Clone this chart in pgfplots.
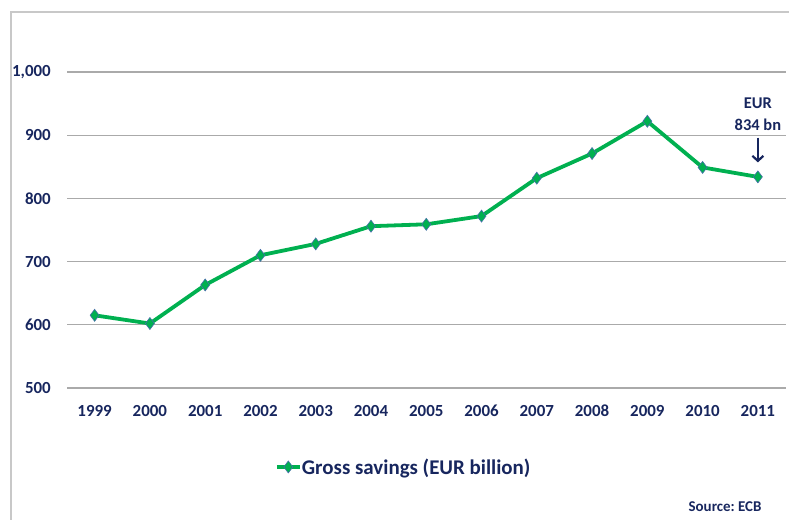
\documentclass[border=0pt]{standalone}
\usepackage{fontspec}
\setmainfont{Carlito}
\usepackage{pgfplots}
\pgfplotsset{compat=1.18}
\usetikzlibrary{arrows.meta}
\frenchspacing
\definecolor{navy}{RGB}{23,38,94}
\definecolor{sgreen}{RGB}{0,176,80}
\definecolor{gridgray}{RGB}{170,170,170}
\definecolor{framegray}{RGB}{200,200,200}
\definecolor{medge}{RGB}{70,110,170}
\pgfplotstableread{
x year value
0 1999 615
1 2000 602
2 2001 663
3 2002 710
4 2003 728
5 2004 756
6 2005 759
7 2006 772
8 2007 832
9 2008 871
10 2009 922
11 2010 849
12 2011 834
}\savings
\begin{document}
\begin{tikzpicture}[x=1bp,y=1bp]
\path[use as bounding box] (0,0) rectangle (789,520);
\draw[framegray, line width=1.3bp] (11,0) -- (11,508) -- (789,508);
\begin{axis}[
  at={(67bp,132bp)}, anchor=south west,
  scale only axis, width=718.5bp, height=316bp,
  xmin=-0.5, xmax=12.5, ymin=500, ymax=1000,
  xtick={0,...,12},
  xticklabels={1999,2000,2001,2002,2003,2004,2005,2006,2007,2008,2009,2010,2011},
  ytick={500,600,700,800,900,1000},
  ymajorgrids, grid style={gridgray, line width=1.1bp},
  axis line style={draw=none}, major tick length=0pt,
  tick label style={font=\fontsize{17}{20}\selectfont\bfseries, text=navy},
  /pgf/number format/assume math mode=true,
  /pgf/number format/1000 sep={,},
  yticklabel style={anchor=east, inner sep=0pt, xshift=-16bp},
  xticklabel style={anchor=center, inner sep=0pt, yshift=-23bp},
  clip=false,
  legend style={at={(0.2895,-0.25)}, anchor=west, draw=none, fill=none,
    inner sep=0pt, nodes={inner sep=0.5bp},
    font=\fontsize{21}{24}\selectfont\bfseries, text=navy},
  legend cell align=left,
  legend image code/.code={\draw[#1, line width=3.2bp, mark repeat=2, mark phase=2]
     plot coordinates {(0bp,0bp) (11.5bp,0bp) (23bp,0bp)};},
]
\addplot[sgreen, line width=3.8bp, mark=diamond*, mark size=6bp,
  mark options={fill=sgreen, draw=medge, line width=0.6bp}]
  table[x=x, y=value] {\savings};
\addlegendentry{Gross savings (EUR billion)}
\node[font=\fontsize{16.5}{19}\selectfont\bfseries, text=navy] at (axis cs:12,950) {EUR};
\node[font=\fontsize{16.5}{19}\selectfont\bfseries, text=navy] at (axis cs:12,917) {834 bn};
\draw[navy, line width=2.2bp, -{Straight Barb[length=5bp, width=11bp]}] (axis cs:12,896) -- (axis cs:12,857);
\end{axis}
\node[anchor=east, text=navy, font=\fontsize{15}{18}\selectfont\bfseries] at (765,13) {Source: ECB};
\end{tikzpicture}
\end{document}
